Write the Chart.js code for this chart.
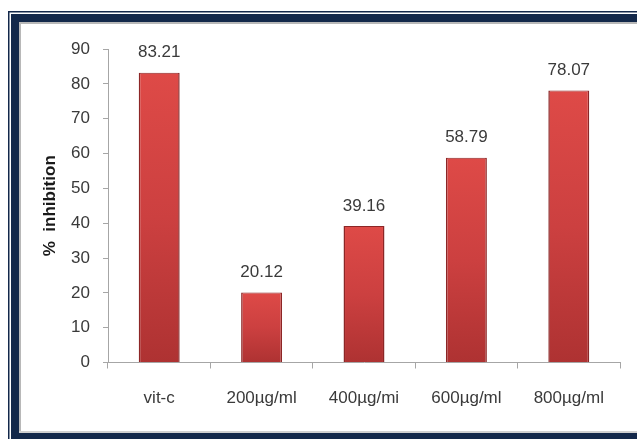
<!DOCTYPE html>
<html>
<head>
<meta charset="utf-8">
<script src="https://cdn.jsdelivr.net/npm/chart.js@4.4.1/dist/chart.umd.min.js"></script>
<style>
  html, body { margin: 0; padding: 0; background: #ffffff; }
  #wrap { position: relative; width: 637px; height: 439px; }
</style>
</head>
<body>
<div id="wrap"><canvas id="c" width="637" height="439"></canvas></div>
<script>
const categories = ["vit-c", "200\u00b5g/ml", "400\u00b5g/mi", "600\u00b5g/ml", "800\u00b5g/ml"];
const inhibition = [83.21, 20.12, 39.16, 58.79, 78.07];
const valueLabels = ["83.21", "20.12", "39.16", "58.79", "78.07"];
const yTicks = [0, 10, 20, 30, 40, 50, 60, 70, 80, 90];
const yTitle = "%  inhibition";

const NAVY = "#13284a";
const TEXT = "#3a3a3a";
const AXIS = "#a6a6a6";
const FONT = "'Liberation Sans', Arial, sans-serif";

const framePlugin = {
  id: "frame",
  beforeDraw(chart) {
    const ctx = chart.ctx;
    ctx.save();
    ctx.fillStyle = "#ffffff";
    ctx.fillRect(0, 0, chart.width, chart.height);
    ctx.fillStyle = NAVY;
    ctx.fillRect(8, 11, chart.width, 1.5);
    ctx.fillRect(8, 11, 1.5, chart.height);
    ctx.fillRect(11, 14, chart.width, 8);
    ctx.fillRect(11, 14, 8, chart.height);
    ctx.fillRect(11, 433, chart.width, 8);
    ctx.fillStyle = "#b8b8b8";
    ctx.fillRect(19, 22, chart.width, 2);
    ctx.fillRect(19, 22, 2, 411);
    ctx.fillStyle = "#d0d0d0";
    ctx.fillRect(19, 431, chart.width, 2);
    ctx.restore();
  }
};

const valueLabelPlugin = {
  id: "valueLabels",
  afterDatasetsDraw(chart) {
    const ctx = chart.ctx;
    const meta = chart.getDatasetMeta(0);
    ctx.save();
    ctx.font = "17px " + FONT;
    ctx.fillStyle = TEXT;
    ctx.textAlign = "center";
    ctx.textBaseline = "middle";
    meta.data.forEach((bar, i) => {
      ctx.fillText(valueLabels[i], bar.x, bar.y - 20);
    });
    ctx.restore();
  }
};

function barGradient(context) {
  const chart = context.chart;
  const ys = chart.scales && chart.scales.y;
  if (!ys || !chart.chartArea) return "#c83c3c";
  const top = ys.getPixelForValue(inhibition[context.dataIndex]);
  const bottom = ys.getPixelForValue(0);
  const g = chart.ctx.createLinearGradient(0, top, 0, bottom);
  g.addColorStop(0, "#de4a47");
  g.addColorStop(0.5, "#cc4040");
  g.addColorStop(1, "#ae3232");
  return g;
}

new Chart(document.getElementById("c"), {
  type: "bar",
  data: {
    labels: categories,
    datasets: [{
      data: inhibition,
      backgroundColor: barGradient,
      borderColor: "#8c2626",
      borderWidth: { top: 1, left: 1.5, right: 1.5, bottom: 0 },
      categoryPercentage: 1,
      barPercentage: 0.4
    }]
  },
  options: {
    responsive: false,
    animation: false,
    devicePixelRatio: 1,
    layout: { padding: { left: 40, right: 17, top: 49, bottom: 0 } },
    plugins: { legend: { display: false }, tooltip: { enabled: false } },
    scales: {
      x: {
        grid: { display: true, drawOnChartArea: false, drawTicks: true, tickLength: 6, color: AXIS, offset: true },
        border: { display: true, color: AXIS, width: 1 },
        ticks: { color: TEXT, font: { family: FONT, size: 17 }, padding: 20, maxRotation: 0 },
        afterFit(scale) { scale.height = 439 - 362.5; }
      },
      y: {
        min: 0,
        max: 90,
        afterBuildTicks(scale) { scale.ticks = yTicks.map(v => ({ value: v })); },
        grid: { display: true, drawOnChartArea: false, drawTicks: true, tickLength: 5, color: AXIS },
        border: { display: true, color: AXIS, width: 1 },
        ticks: { color: TEXT, font: { family: FONT, size: 17 }, padding: 13 },
        title: {
          display: true,
          text: yTitle,
          color: "#1a1a1a",
          font: { family: FONT, size: 17, weight: "bold" },
          padding: { top: 0, bottom: 0 }
        },
        afterFit(scale) { scale.width = 108 - 40; }
      }
    }
  },
  plugins: [framePlugin, valueLabelPlugin]
});
</script>
</body>
</html>
